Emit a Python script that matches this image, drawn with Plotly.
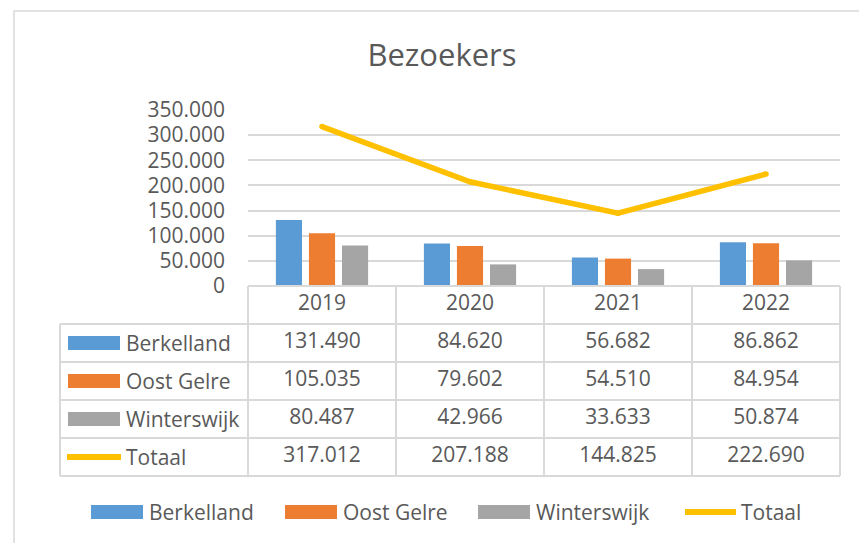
import plotly.graph_objects as go

# ---------------- data ----------------
years = ["2019", "2020", "2021", "2022"]
berkelland = [131490, 84620, 56682, 86862]
oost_gelre = [105035, 79602, 54510, 84954]
winterswijk = [80487, 42966, 33633, 50874]
totaal = [317012, 207188, 144825, 222690]
series_names = ["Berkelland", "Oost Gelre", "Winterswijk", "Totaal"]
y_tick_values = [0, 50000, 100000, 150000, 200000, 250000, 300000, 350000]
title_text = "Bezoekers"

# ---------------- style ----------------
W, H = 859, 543
FONT = "Open Sans"
TXT = "#595959"
GRID = "#D9D9D9"
COLORS = ["#5B9BD5", "#ED7D31", "#A5A5A5", "#FFC000"]
FS = 21

def px(x):
    return x / W

def py(y):
    return 1 - y / H

# pixel layout
PLOT_L, PLOT_R = 248, 840
PLOT_T, PLOT_B = 110, 286
CAT_W = (PLOT_R - PLOT_L) / len(years)
TAB_L = 60
ROW_H = 38
N_ROWS = 1 + len(series_names)
TAB_B = PLOT_B + ROW_H * N_ROWS
PAD = 3

series_values = [berkelland, oost_gelre, winterswijk, totaal]
row_cats = ["jaar"] + series_names

fig = go.Figure()

# bars
for name, vals, col in zip(series_names[:3], series_values[:3], COLORS[:3]):
    fig.add_trace(go.Bar(x=years, y=vals, name=name, marker=dict(color=col, line=dict(width=0)),
                         xaxis="x", yaxis="y"))
# line
fig.add_trace(go.Scatter(x=years, y=totaal, name="Totaal", mode="lines+markers",
                         line=dict(color=COLORS[3], width=5.5),
                         marker=dict(color=COLORS[3], size=5.5),
                         xaxis="x", yaxis="y"))

# data table: header row
fig.add_trace(go.Scatter(x=years, y=["jaar"] * len(years), text=years, mode="text",
                         textfont=dict(family=FONT, size=FS, color=TXT),
                         xaxis="x2", yaxis="y2", hoverinfo="skip", showlegend=False,
                         cliponaxis=False))

def fmt(v):
    return f"{v:,}".replace(",", ".")

for name, vals in zip(series_names, series_values):
    fig.add_trace(go.Scatter(x=years, y=[name] * len(years), text=[fmt(v) for v in vals],
                             mode="text", textfont=dict(family=FONT, size=FS, color=TXT),
                             xaxis="x2", yaxis="y2", hoverinfo="skip", showlegend=False,
                             cliponaxis=False))

# table axes geometry
x2_left = -0.5 - (PLOT_L - TAB_L) / CAT_W
x2_range = [x2_left - PAD / CAT_W, len(years) - 0.5 + PAD / CAT_W]
y2_range = [N_ROWS - 0.5 + PAD / ROW_H, -0.5 - PAD / ROW_H]

shapes = []
line_style = dict(color=GRID, width=2)
# horizontal table lines
for r in range(N_ROWS + 1):
    yv = r - 0.5
    x0 = -0.5 if r == 0 else x2_left
    shapes.append(dict(type="line", xref="x2", yref="y2", x0=x0, x1=len(years) - 0.5,
                       y0=yv, y1=yv, line=line_style, layer="above"))
# vertical table lines
for c in range(len(years) + 1):
    xv = c - 0.5
    shapes.append(dict(type="line", xref="x2", yref="y2", x0=xv, x1=xv,
                       y0=-0.5, y1=N_ROWS - 0.5, line=line_style))
shapes.append(dict(type="line", xref="x2", yref="y2", x0=x2_left, x1=x2_left,
                   y0=0.5, y1=N_ROWS - 0.5, line=line_style))

annotations = []
# row keys and labels
for i, (name, col) in enumerate(zip(series_names, COLORS)):
    row = i + 1
    if name == "Totaal":
        shapes.append(dict(type="line", xref="paper", yref="y2", x0=px(67), x1=px(121),
                           y0=row, y1=row, line=dict(color=col, width=6)))
    else:
        shapes.append(dict(type="rect", xref="paper", yref="y2", x0=px(68), x1=px(120),
                           y0=row - 7 / ROW_H, y1=row + 7 / ROW_H,
                           fillcolor=col, line=dict(width=0)))
    annotations.append(dict(text=name, xref="paper", yref="y2", x=px(124), y=name,
                            xanchor="left", yanchor="middle", showarrow=False,
                            font=dict(family=FONT, size=FS, color=TXT)))

# bottom legend
LEG_Y = 512
leg_x = [91, 285, 478, 684]
for name, col, lx in zip(series_names, COLORS, leg_x):
    if name == "Totaal":
        shapes.append(dict(type="line", xref="paper", yref="paper", x0=px(lx + 1), x1=px(lx + 52),
                           y0=py(LEG_Y), y1=py(LEG_Y), line=dict(color=col, width=6)))
        tx = lx + 55
    else:
        shapes.append(dict(type="rect", xref="paper", yref="paper", x0=px(lx), x1=px(lx + 52),
                           y0=py(LEG_Y + 7), y1=py(LEG_Y - 7), fillcolor=col, line=dict(width=0)))
        tx = lx + 56
    annotations.append(dict(text=name, xref="paper", yref="paper", x=px(tx), y=py(LEG_Y),
                            xanchor="left", yanchor="middle", showarrow=False,
                            font=dict(family=FONT, size=FS, color=TXT)))

# chart border
shapes.append(dict(type="rect", xref="paper", yref="paper", x0=px(14), x1=px(W + 20),
                   y0=py(H + 20), y1=py(11), line=dict(color=GRID, width=1.5)))

fig.update_layout(
    width=W, height=H,
    autosize=False,
    margin=dict(l=0, r=0, t=0, b=0, pad=0, autoexpand=False),
    paper_bgcolor="white", plot_bgcolor="rgba(0,0,0,0)",
    separators=",.",
    showlegend=False,
    barmode="group", bargap=0.33, bargroupgap=0.21,
    title=dict(text=title_text, x=px(442), y=py(55), xref="paper", yref="paper",
               xanchor="center", yanchor="middle", automargin=False,
               font=dict(family=FONT, size=31, color=TXT)),
    font=dict(family=FONT, size=FS, color=TXT),
    xaxis=dict(type="category", categoryarray=years, categoryorder="array",
               domain=[px(PLOT_L), px(PLOT_R)], range=[-0.5, len(years) - 0.5],
               showticklabels=False, showgrid=False, zeroline=False, showline=False,
               ticks="", anchor="y", fixedrange=True, automargin=False),
    yaxis=dict(domain=[py(PLOT_B), py(PLOT_T)], range=[0, 350000],
               tickvals=y_tick_values, tickformat=",d",
               showgrid=True, gridcolor=GRID, gridwidth=2, zeroline=False, showline=False,
               ticks="", ticklabelstandoff=22, automargin=False,
               tickfont=dict(family=FONT, size=FS, color=TXT), anchor="x", fixedrange=True),
    xaxis2=dict(type="category", categoryarray=years, categoryorder="array",
                domain=[px(TAB_L - PAD), px(PLOT_R + PAD)], range=x2_range,
                showticklabels=False, showgrid=False, zeroline=False, showline=False,
                ticks="", anchor="y2", fixedrange=True, automargin=False),
    yaxis2=dict(type="category", categoryarray=row_cats, categoryorder="array",
                domain=[py(TAB_B + PAD), py(PLOT_B - PAD)], range=y2_range,
                showticklabels=False, showgrid=False, zeroline=False, showline=False,
                ticks="", anchor="x2", fixedrange=True, automargin=False),
    shapes=shapes,
    annotations=annotations,
)

fig.write_html("out.html", config={"displayModeBar": False},
               post_script="document.body.style.margin='0px';")
